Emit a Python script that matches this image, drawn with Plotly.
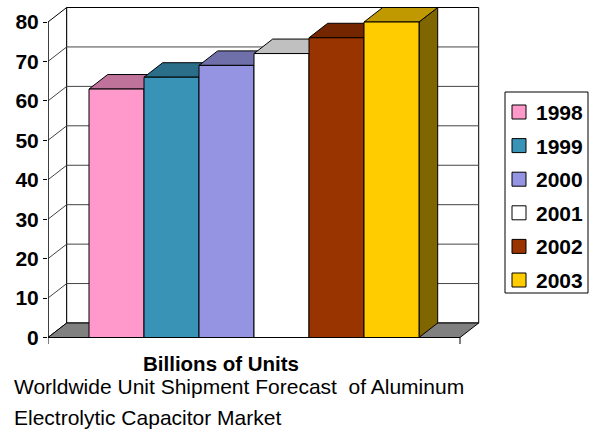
import plotly.graph_objects as go

years = ["1998", "1999", "2000", "2001", "2002", "2003"]
values = [63, 66, 69, 72, 76, 80]
front_colors = ["#ff99cc", "#3993b6", "#9494e2", "#ffffff", "#993300", "#ffcc00"]
top_colors = ["#c0739a", "#2a6e89", "#6f6faa", "#c0c0c0", "#732600", "#c09900"]
side_colors = ["#80667f", "#1d4a5c", "#4a4a71", "#808080", "#4d1a00", "#806600"]
y_ticks = [0, 10, 20, 30, 40, 50, 60, 70, 80]

# geometry in data units
K = 315.5 / 80.0           # px per value unit
PXX = 55.0                 # px per category unit
DX = 18.7 / PXX            # depth offset x
DY = 14.5 / K              # depth offset y
XL = -1.2455               # front-left corner (value axis)
XR = 6.2455                # front-right corner
VMAX = 80
ymin = -(345 - 337.5) / K
ymax = ymin + 340 / K
xmin = XL
xmax = XL + 442 / PXX

FONT = "Liberation Sans, Arial, sans-serif"
fig = go.Figure()


def poly(xs, ys, fill, lc="black", lw=1):
    fig.add_trace(go.Scatter(
        x=list(xs) + [xs[0]], y=list(ys) + [ys[0]], mode="lines",
        fill="toself", fillcolor=fill, line=dict(color=lc, width=lw),
        hoverinfo="skip", showlegend=False))


def seg(xs, ys, color="black", width=1):
    fig.add_trace(go.Scatter(x=xs, y=ys, mode="lines",
                             line=dict(color=color, width=width),
                             hoverinfo="skip", showlegend=False))


# left wall
poly([XL, XL + DX, XL + DX, XL], [0, DY, VMAX + DY, VMAX], "white")
# back wall
poly([XL + DX, XR + DX, XR + DX, XL + DX], [DY, DY, VMAX + DY, VMAX + DY], "white")
# gridlines on back wall and left wall diagonals
for v in y_ticks[1:-1]:
    seg([XL, XL + DX, XR + DX], [v, v + DY, v + DY], color="#444")
# floor
poly([XL, XR, XR + DX, XL + DX], [0, 0, DY, DY], "#808080")

# bars (3D): side, top, front
for i, (v, fc, tc, sc) in enumerate(zip(values, front_colors, top_colors, side_colors)):
    l, r = i - 0.5, i + 0.5
    poly([r, r + DX, r + DX, r], [0, DY, v + DY, v], sc)
    poly([l, r, r + DX, l + DX], [v, v, v + DY, v + DY], tc)
    poly([l, r, r, l], [0, 0, v, v], fc)

# front axis lines
seg([XL, XL], [0, VMAX])
seg([XL, XR], [0, 0])
seg([XR, XR], [0, -6.5 / K])
seg([XL, XL], [0, -6.5 / K])


def px(x):
    return (x - 48) / 442


def py(y):
    return (345 - y) / 340


# manual legend
shapes = [dict(type="rect", xref="paper", yref="paper",
               x0=px(505), x1=px(588), y0=py(92), y1=py(293),
               line=dict(color="black", width=1), fillcolor="white", layer="below")]
annotations = []
for i, (yr, fc) in enumerate(zip(years, front_colors)):
    yc = 112 + 33.6 * i
    shapes.append(dict(type="rect", xref="paper", yref="paper",
                       x0=px(512), x1=px(526), y0=py(yc - 7), y1=py(yc + 7),
                       line=dict(color="black", width=1), fillcolor=fc))
    annotations.append(dict(text="<b>%s</b>" % yr, xref="paper", yref="paper",
                            x=px(534), y=py(yc + 0.5), xanchor="left", yanchor="middle",
                            showarrow=False, font=dict(family=FONT, size=21)))

annotations += [
    dict(text="<b>Billions of Units</b>", xref="paper", yref="paper",
         x=px(221), y=py(363), xanchor="center", yanchor="middle",
         showarrow=False, font=dict(family=FONT, size=20.5)),
    dict(text="Worldwide Unit Shipment Forecast  of Aluminum", xref="paper", yref="paper",
         x=px(12), y=py(386), xanchor="left", yanchor="middle",
         showarrow=False, font=dict(family=FONT, size=21)),
    dict(text="Electrolytic Capacitor Market", xref="paper", yref="paper",
         x=px(12), y=py(418), xanchor="left", yanchor="middle",
         showarrow=False, font=dict(family=FONT, size=21)),
]

fig.update_layout(
    width=598, height=432,
    margin=dict(l=48, r=108, t=5, b=87),
    paper_bgcolor="white", plot_bgcolor="white",
    font=dict(family=FONT, color="black"),
    xaxis=dict(range=[xmin, xmax], visible=False, fixedrange=True),
    yaxis=dict(range=[ymin, ymax], tickvals=y_ticks, ticktext=[str(t) for t in y_ticks],
               ticks="outside", ticklen=4, tickcolor="black", showgrid=False,
               zeroline=False, showline=False,
               tickfont=dict(family=FONT, size=21, color="black", weight="bold")),
    showlegend=False,
    shapes=shapes,
    annotations=annotations,
)

fig.write_html("out.html")
